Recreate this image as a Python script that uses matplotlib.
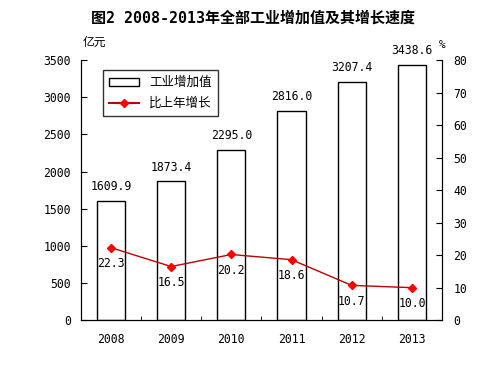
import matplotlib.pyplot as plt
from matplotlib.lines import Line2D
from matplotlib.patches import Patch

plt.rcParams['font.family'] = ['DejaVu Sans Mono', 'Noto Sans CJK SC']

years = ['2008', '2009', '2010', '2011', '2012', '2013']
value_added = [1609.9, 1873.4, 2295.0, 2816.0, 3207.4, 3438.6]
growth = [22.3, 16.5, 20.2, 18.6, 10.7, 10.0]

cjk = ['Noto Sans CJK SC', 'DejaVu Sans']

fig = plt.figure(figsize=(4.81, 3.78), dpi=100)
ax = fig.add_axes([0.168, 0.153, 0.751, 0.688])
ax2 = ax.twinx()

x = range(len(years))
ax.bar(x, value_added, width=0.47, color='white', edgecolor='black', linewidth=1.0, zorder=2)
for xi, v in zip(x, value_added):
    ax.text(xi, v + 100, f'{v:.1f}', ha='center', va='bottom', fontsize=8.3)

ax.set_xlim(-0.5, len(years) - 0.5)
ax.set_ylim(0, 3500)
ax.set_yticks(range(0, 3501, 500))
ax.set_xticks(x)
ax.set_xticklabels(years)
ax.set_xticks([i + 0.5 for i in range(len(years) - 1)], minor=True)
ax.tick_params(axis='x', which='major', length=0, pad=9, labelsize=8.3)
ax.tick_params(axis='x', which='minor', direction='in', length=3)
ax.tick_params(axis='y', direction='in', length=4, pad=7, labelsize=8.3)

ax2.plot(x, growth, color='#c00000', linewidth=1.0, marker='D', markersize=4,
         markerfacecolor='#ff0000', markeredgecolor='#ff0000', zorder=3)
for xi, g in zip(x, growth):
    ax2.text(xi, g - 2.9, f'{g:.1f}', ha='center', va='top', fontsize=8.3)
ax2.set_ylim(0, 80)
ax2.set_yticks(range(0, 81, 10))
ax2.tick_params(axis='y', direction='in', length=4, pad=8, labelsize=8.3)

for a in (ax, ax2):
    a.spines['top'].set_visible(False)

handles = [Patch(facecolor='white', edgecolor='black', linewidth=1.0),
           Line2D([], [], color='#c00000', marker='D', markersize=4,
                  markerfacecolor='#ff0000', markeredgecolor='#ff0000')]
leg = ax.legend(handles, ['工业增加值', '比上年增长'], loc='upper left',
                bbox_to_anchor=(0.061, 0.962), borderaxespad=0,
                prop={'family': cjk, 'size': 9}, frameon=True,
                fancybox=False, edgecolor='black', handlelength=2.4,
                handleheight=0.6, borderpad=0.5, labelspacing=0.6)
leg.get_frame().set_linewidth(1.0)

fig.text(0.525, 0.953, '图2 2008-2013年全部工业增加值及其增长速度', ha='center', va='center',
         fontsize=10.8, fontweight='bold')
fig.text(0.197, 0.889, '亿元', ha='center', va='center', fontsize=8.5, family=cjk)
fig.text(0.919, 0.881, '%', ha='center', va='center', fontsize=8)

fig.savefig('out.png', dpi=100)
